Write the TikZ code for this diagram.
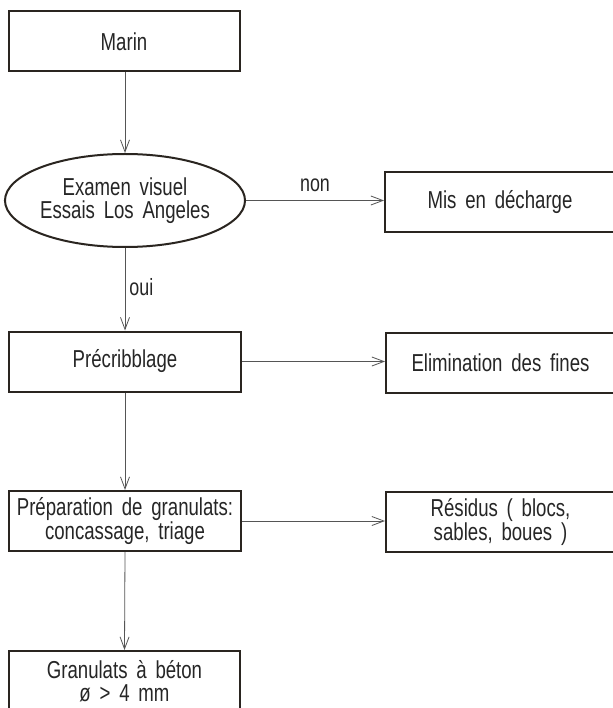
\documentclass[tikz,border=0pt]{standalone}
\usepackage{fontspec}
\newfontfamily\cadfont[FakeStretch=0.76,WordSpace=1.7]{Liberation Sans}
\usetikzlibrary{shapes.geometric,arrows.meta}
\definecolor{boxline}{HTML}{2A2520}
\definecolor{conline}{HTML}{555555}
\begin{document}
\begin{tikzpicture}[x=1pt,y=-1pt,
  every node/.style={font=\cadfont\fontsize{24.5}{22.5}\selectfont, text=black!85, align=center, inner sep=0pt},
  procbox/.style={draw=boxline, line width=2pt, rectangle, minimum width=#1, minimum height=60pt},
  procbox/.default=231pt,
  decision/.style={draw=boxline, line width=2pt, ellipse, minimum width=204pt, minimum height=93pt},
  flow/.style={draw=conline, line width=0.8pt, -{Straight Barb[length=12pt,width=9pt,line width=0.8pt]}},
  lbl/.style={font=\cadfont\fontsize{23.5}{22}\selectfont}
]
\useasboundingbox[fill=white] (0,0) rectangle (612,708);

\node[procbox] (marin) at (124,41.5) {Marin};
\node[decision] (exam) at (125,200.5) {Examen visuel\\Essais Los Angeles};
\node[procbox=230pt] (mis) at (500,202.5) {Mis en décharge};
\node[procbox=232pt] (prec) at (125,361.5) {Précribblage};
\node[procbox=229pt] (elim) at (500.5,362.5) {Elimination des fines};
\node[procbox=232pt] (prep) at (125,521) {Préparation de granulats:\\concassage, triage};
\node[procbox=229pt] (resid) at (500.5,522) {Résidus ( blocs,\\sables, boues )};
\node[procbox=231pt] (gran) at (124.5,681) {Granulats à béton\\ø > 4 mm};

\draw[flow] (marin.south -| exam.north) -- (exam.north);
\draw[flow] (exam.east) -- (exam.east -| mis.west) node[lbl, midway, above=8pt] {non};
\draw[flow] (exam.south) -- (exam.south |- prec.north) node[lbl, midway, right=4pt, yshift=2pt] {oui};
\draw[flow] (prec.east) -- (prec.east -| elim.west);
\draw[flow] (prec.south) -- (prep.north);
\draw[flow] (prep.east) -- (prep.east -| resid.west);
\draw[flow] (prep.south) -- (gran.north);
\end{tikzpicture}
\end{document}
